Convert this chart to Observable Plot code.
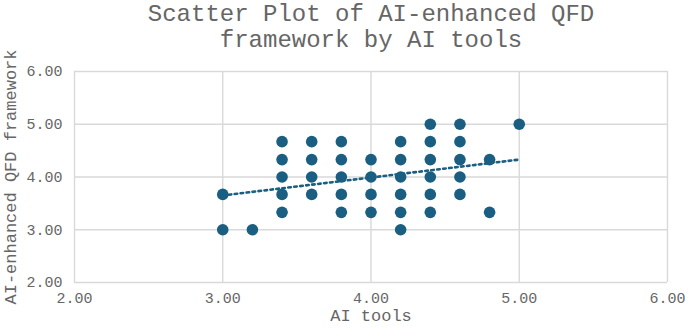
<!DOCTYPE html>
<html>
<head>
<meta charset="utf-8">
<script src="https://cdn.jsdelivr.net/npm/d3@7"></script>
<script src="https://cdn.jsdelivr.net/npm/@observablehq/plot@0.6"></script>
<style>
  html, body { margin: 0; padding: 0; background: #fff; overflow: hidden; }
</style>
</head>
<body>
<div id="chart"></div>
<script>
// Data
const aiTools = [3.0, 3.0, 3.2,
  3.4, 3.4, 3.4, 3.4, 3.4,
  3.6, 3.6, 3.6, 3.6,
  3.8, 3.8, 3.8, 3.8, 3.8,
  4.0, 4.0, 4.0, 4.0,
  4.2, 4.2, 4.2, 4.2, 4.2, 4.2,
  4.4, 4.4, 4.4, 4.4, 4.4, 4.4,
  4.6, 4.6, 4.6, 4.6, 4.6,
  4.8, 4.8,
  5.0];
const qfd = [3.67, 3.00, 3.00,
  4.67, 4.33, 4.00, 3.67, 3.33,
  4.67, 4.33, 4.00, 3.67,
  4.67, 4.33, 4.00, 3.67, 3.33,
  4.33, 4.00, 3.67, 3.33,
  4.67, 4.33, 4.00, 3.67, 3.33, 3.00,
  5.00, 4.67, 4.33, 4.00, 3.67, 3.33,
  5.00, 4.67, 4.33, 4.00, 3.67,
  4.33, 3.33,
  5.00];
const trendX = [3.0, 5.0];
const trendY = [3.65, 4.33];
const ticks = [2, 3, 4, 5, 6];
const titleText = "Scatter Plot of AI-enhanced QFD\nframework by AI tools";
const xLabel = "AI tools";
const yLabel = "AI-enhanced QFD framework";

const points = aiTools.map((x, i) => ({x, y: qfd[i]}));
const trend = trendX.map((x, i) => ({x, y: trendY[i]}));

const font = "'Courier New', 'Liberation Mono', monospace";
const grey = "#666666";
const gridColor = "#d9d9d9";
const dotColor = "#1a5f82";

const chart = Plot.plot({
  width: 685,
  height: 329,
  marginLeft: 74,
  marginRight: 18,
  marginTop: 71,
  marginBottom: 47,
  style: {fontFamily: font, fontSize: "15px", color: grey, background: "#fff"},
  x: {domain: [2, 6]},
  y: {domain: [2, 6]},
  marks: [
    Plot.gridX(ticks, {stroke: gridColor, strokeOpacity: 1, strokeWidth: 1.4}),
    Plot.gridY(ticks, {stroke: gridColor, strokeOpacity: 1, strokeWidth: 1.4}),
    Plot.axisX(ticks, {tickSize: 0, tickPadding: 10, tickFormat: d3.format(".2f"), fill: grey, fontSize: 15,
      label: null}),
    Plot.axisY(ticks, {tickSize: 0, tickPadding: 12, tickFormat: d3.format(".2f"), fill: grey, fontSize: 15,
      label: null}),
    Plot.axisX({ticks: [], tickSize: 0, label: xLabel, labelAnchor: "center", labelArrow: "none",
      labelOffset: 38, fontSize: 17, fill: grey}),
    Plot.axisY({ticks: [], tickSize: 0, label: yLabel, labelAnchor: "center", labelArrow: "none",
      labelOffset: 71, fontSize: 17, fill: grey}),
    Plot.line(trend, {x: "x", y: "y", stroke: dotColor, strokeWidth: 2.6, strokeDasharray: "2.6,3.4"}),
    Plot.dot(points, {x: "x", y: "y", r: 5.8, fill: dotColor, stroke: "none"}),
    Plot.text([titleText], {text: d => d, frameAnchor: "top", dy: -69, lineAnchor: "top",
      lineHeight: 1.08, fontSize: 24, fill: grey, fontFamily: font})
  ]
});
document.getElementById("chart").appendChild(chart);
</script>
</body>
</html>
